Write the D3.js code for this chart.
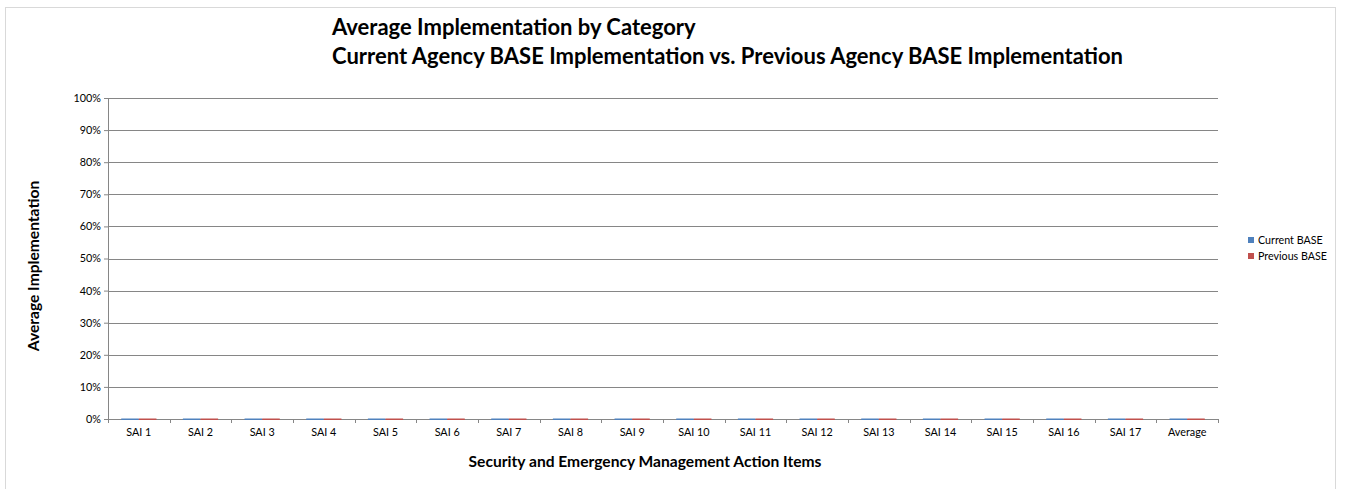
<!DOCTYPE html>
<html>
<head>
<meta charset="utf-8">
<script src="https://cdn.jsdelivr.net/npm/d3@7"></script>
<style>
  body { margin: 0; background: #fff; }
  text { font-family: Lato, 'Open Sans', sans-serif; fill: #000; }
</style>
</head>
<body>
<div id="chart"></div>
<script>
// data
var categories = ['SAI 1', 'SAI 2', 'SAI 3', 'SAI 4', 'SAI 5', 'SAI 6', 'SAI 7', 'SAI 8', 'SAI 9',
  'SAI 10', 'SAI 11', 'SAI 12', 'SAI 13', 'SAI 14', 'SAI 15', 'SAI 16', 'SAI 17', 'Average'];
var currentBase = [0, 0, 0, 0, 0, 0, 0, 0, 0, 0, 0, 0, 0, 0, 0, 0, 0, 0];
var previousBase = [0, 0, 0, 0, 0, 0, 0, 0, 0, 0, 0, 0, 0, 0, 0, 0, 0, 0];
var seriesNames = ['Current BASE', 'Previous BASE'];
var yTicks = [0, 0.1, 0.2, 0.3, 0.4, 0.5, 0.6, 0.7, 0.8, 0.9, 1];

var svgWidth = 1345;
var svgHeight = 489;
var colors = ['#4F81BD', '#C0504D'];

var svg = d3.select('#chart')
  .append('svg')
  .attr('width', svgWidth)
  .attr('height', svgHeight);

// outer chart border
svg.append('rect')
  .attr('x', 5.5)
  .attr('y', 7.5)
  .attr('width', 1330)
  .attr('height', 490)
  .attr('fill', '#fff')
  .attr('stroke', '#d9d9d9');

var plot = { left: 108, right: 1218, top: 98, bottom: 419 };

var xScale = d3.scaleBand()
  .domain(categories)
  .range([plot.left, plot.right]);

var yScale = d3.scaleLinear()
  .domain([0, 1])
  .range([plot.bottom, plot.top]);

// gridlines
svg.append('g')
  .selectAll('line')
  .data(yTicks.slice(1))
  .enter()
  .append('line')
  .attr('x1', plot.left)
  .attr('x2', plot.right)
  .attr('y1', d => Math.round(yScale(d)) + 0.5)
  .attr('y2', d => Math.round(yScale(d)) + 0.5)
  .attr('stroke', '#868686');

// y axis (d3 adds the half-pixel offset itself)
var leftAxis = d3.axisLeft(yScale)
  .tickValues(yTicks)
  .tickFormat(d3.format('.0%'))
  .tickSize(4)
  .tickPadding(3);

var yAxis = svg.append('g')
  .attr('transform', `translate(${plot.left}, 0)`)
  .call(leftAxis);
yAxis.select('.domain').attr('stroke', '#868686');
yAxis.selectAll('.tick line').attr('stroke', '#868686');
yAxis.selectAll('.tick text')
  .attr('font-size', '10.8px')
  .attr('font-family', 'Lato, sans-serif');

// x axis
var bottomAxis = d3.axisBottom(xScale)
  .tickSize(0)
  .tickPadding(9);

var xAxis = svg.append('g')
  .attr('transform', `translate(0, ${plot.bottom})`)
  .call(bottomAxis);
xAxis.select('.domain').attr('stroke', '#868686');
xAxis.selectAll('.tick text')
  .attr('font-size', '10.8px')
  .attr('font-family', 'Lato, sans-serif');

// x category boundary ticks
xAxis.append('g')
  .selectAll('line')
  .data(categories.map(c => xScale(c)).concat([plot.right]))
  .enter()
  .append('line')
  .attr('x1', d => Math.round(d) + 0.5)
  .attr('x2', d => Math.round(d) + 0.5)
  .attr('y1', 0)
  .attr('y2', 4)
  .attr('stroke', '#868686');

// bars (gap width 150%), drawn over the axis so zero bars show as coloured lines
var barW = xScale.bandwidth() / 3.5;
var series = [currentBase, previousBase];
series.forEach(function(vals, si) {
  svg.append('g')
    .selectAll('rect')
    .data(vals)
    .enter()
    .append('rect')
    .attr('x', (d, i) => xScale(categories[i]) + barW * 0.75 + si * barW)
    .attr('y', d => yScale(d) - 0.5)
    .attr('width', barW)
    .attr('height', d => plot.bottom - yScale(d) + 1.5)
    .attr('fill', colors[si]);
});

// title
var title = svg.append('text')
  .attr('x', 332)
  .attr('y', 35)
  .attr('font-size', '22px')
  .attr('font-weight', 'bold');
title.append('tspan')
  .attr('x', 332)
  .text('Average Implementation by Category');
title.append('tspan')
  .attr('x', 332)
  .attr('dy', 29)
  .text('Current Agency BASE Implementation vs. Previous Agency BASE Implementation');

// axis titles
svg.append('text')
  .attr('transform', 'translate(39, 266) rotate(-90)')
  .attr('text-anchor', 'middle')
  .attr('font-size', '15.6px')
  .attr('font-weight', 'bold')
  .text('Average Implementation');

svg.append('text')
  .attr('x', 645)
  .attr('y', 467)
  .attr('text-anchor', 'middle')
  .attr('font-size', '15.6px')
  .attr('font-weight', 'bold')
  .text('Security and Emergency Management Action Items');

// legend
var legend = svg.append('g')
  .attr('transform', 'translate(1248, 237)');
seriesNames.forEach(function(name, i) {
  legend.append('rect')
    .attr('x', 0)
    .attr('y', i * 16)
    .attr('width', 6)
    .attr('height', 6)
    .attr('fill', colors[i]);
  legend.append('text')
    .attr('x', 10)
    .attr('y', i * 16 + 6.5)
    .attr('font-size', '10.7px')
    .text(name);
});
</script>
</body>
</html>
